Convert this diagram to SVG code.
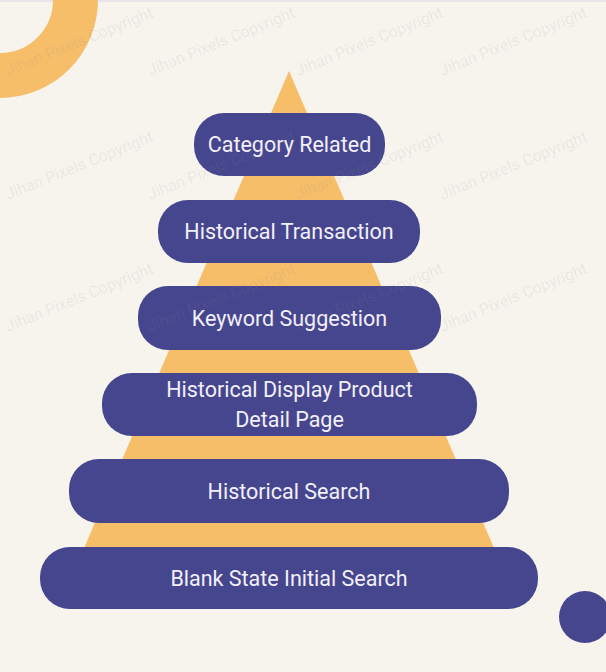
<svg xmlns="http://www.w3.org/2000/svg" width="606" height="672" viewBox="0 0 606 672">
  <style>
    .pill { fill: #46468f; }
    .label { font-family: Roboto, "Liberation Sans", sans-serif; font-size: 21.5px; fill: #f2f0f8; text-anchor: middle; }
    .wm { font-family: Roboto, "Liberation Sans", sans-serif; font-size: 16px; fill: #8a8a8a; fill-opacity: 0.13; }
  </style>
  <rect x="0" y="0" width="606" height="672" fill="#f7f4ee"/>
  <rect x="0" y="0" width="606" height="2" fill="#e6e6ea"/>
  <g id="decor">
    <circle cx="0" cy="0" r="75.5" fill="none" stroke="#f6be69" stroke-width="45"/>
    <circle cx="585" cy="617" r="26" fill="#46468f"/>
    <polygon points="289,71 66,590 512,590" fill="#f6be69"/>
  </g>
  <g id="connectors"></g>
  <g id="node-category">
    <rect class="pill" x="194" y="113" width="191" height="63" rx="30"/>
    <text class="label" x="289.5" y="152">Category Related</text>
  </g>
  <g id="node-transaction">
    <rect class="pill" x="158" y="200" width="262" height="63" rx="30"/>
    <text class="label" x="289" y="239">Historical Transaction</text>
  </g>
  <g id="node-keyword">
    <rect class="pill" x="138" y="286" width="303" height="64" rx="30"/>
    <text class="label" x="289.5" y="326">Keyword Suggestion</text>
  </g>
  <g id="node-display">
    <rect class="pill" x="102" y="373" width="375" height="63" rx="30"/>
    <text class="label" x="289.5" y="397">Historical Display Product</text>
    <text class="label" x="289.5" y="427">Detail Page</text>
  </g>
  <g id="node-search">
    <rect class="pill" x="69" y="459" width="440" height="64" rx="30"/>
    <text class="label" x="289" y="499">Historical Search</text>
  </g>
  <g id="node-blank">
    <rect class="pill" x="40" y="547" width="498" height="62" rx="30"/>
    <text class="label" x="289" y="586">Blank State Initial Search</text>
  </g>
  <g id="watermark">
    <text class="wm" transform="translate(8,76) rotate(-22)">Jihan Pixels Copyright</text>
    <text class="wm" transform="translate(150,76) rotate(-22)">Jihan Pixels Copyright</text>
    <text class="wm" transform="translate(298,76) rotate(-22)">Jihan Pixels Copyright</text>
    <text class="wm" transform="translate(442,76) rotate(-22)">Jihan Pixels Copyright</text>
    <text class="wm" transform="translate(8,200) rotate(-22)">Jihan Pixels Copyright</text>
    <text class="wm" transform="translate(150,200) rotate(-22)">Jihan Pixels Copyright</text>
    <text class="wm" transform="translate(298,200) rotate(-22)">Jihan Pixels Copyright</text>
    <text class="wm" transform="translate(442,200) rotate(-22)">Jihan Pixels Copyright</text>
    <text class="wm" transform="translate(8,332) rotate(-22)">Jihan Pixels Copyright</text>
    <text class="wm" transform="translate(150,332) rotate(-22)">Jihan Pixels Copyright</text>
    <text class="wm" transform="translate(298,332) rotate(-22)">Jihan Pixels Copyright</text>
    <text class="wm" transform="translate(442,332) rotate(-22)">Jihan Pixels Copyright</text>
  </g>
</svg>
